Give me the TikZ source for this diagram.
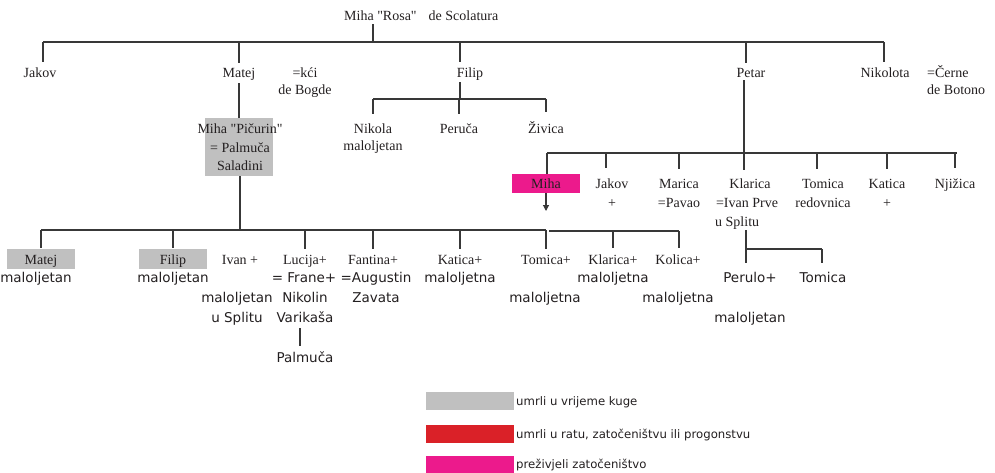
\documentclass[tikz,border=0pt]{standalone}
\usepackage{fontspec}
\setmainfont{Liberation Serif}
\newfontfamily\sansf{DejaVu Sans}
\usetikzlibrary{arrows.meta}
\definecolor{plague}{HTML}{C0C0C0}
\definecolor{war}{HTML}{DA2128}
\definecolor{surv}{HTML}{EC1A8C}
\definecolor{ink}{HTML}{231F20}
\tikzset{
  ser/.style={font=\fontsize{14}{18}\selectfont, inner sep=0pt, anchor=base, text=ink},
  san/.style={font=\sansf\fontsize{13.5}{18}\selectfont, inner sep=0pt, anchor=base, text=ink},
  leg/.style={font=\sansf\fontsize{11.7}{14}\selectfont, inner sep=0pt, anchor=base west, text=ink},
  ln/.style={line width=1.1pt, draw=black!78},
  swatch/.style={draw=none, inner sep=0pt, minimum width=68pt, minimum height=20pt},
  legbox/.style={draw=none, inner sep=0pt, minimum width=88pt, minimum height=18pt},
}
\begin{document}
\begin{tikzpicture}[x=1pt,y=-1pt]
\useasboundingbox (0,0) rectangle (995,472);

% ---------- generation 1 ----------
\node[ser, anchor=base west] (root) at (344,20) {Miha \textquotedbl Rosa\textquotedbl\hspace{12pt}de Scolatura};
\coordinate (rs) at (373,42);
\coordinate (b1a) at (43,42);
\coordinate (b1b) at (884,42);
\draw[ln, shorten <=4pt] (rs |- root.south) -- (rs);
\draw[ln] (b1a) -- (b1b);

% ---------- generation 2 ----------
\node[ser] (jakov) at (40,77) {Jakov};
\node[ser] (matej) at (239,77) {Matej};
\node[ser] (kci) at (305,77) {=kći};
\node[ser] (bogde) at (305,94) {de Bogde};
\node[ser] (filip) at (470,77) {Filip};
\node[ser] (petar) at (751,77) {Petar};
\node[ser] (nikolota) at (885,77) {Nikolota};
\node[ser, anchor=base west] (cerne) at (927,77) {=Černe};
\node[ser, anchor=base west] (botono) at (927,94) {de Botono};

\coordinate (dj) at (43,42);
\coordinate (dm) at (239,42);
\coordinate (df) at (460,42);
\coordinate (dp) at (746,42);
\coordinate (dn) at (884,42);
\draw[ln, shorten >=5pt] (dj) -- (dj |- jakov.north);
\draw[ln, shorten >=5pt] (dm) -- (dm |- matej.north);
\draw[ln, shorten >=5pt] (df) -- (df |- filip.north);
\draw[ln, shorten >=5pt] (dp) -- (dp |- petar.north);
\draw[ln, shorten >=5pt] (dn) -- (dn |- nikolota.north);

% ---------- Filip's children ----------
\coordinate (fj) at (460,99);
\coordinate (f1) at (373,99);
\coordinate (f2) at (459,99);
\coordinate (f3) at (546,99);
\draw[ln, shorten <=2pt] (fj |- filip.south) -- (fj);
\draw[ln] (f1) -- (f3);
\node[ser] (nikola) at (373,133) {Nikola};
\node[ser] (nikolam) at (373,150) {maloljetan};
\node[ser] (peruca) at (459,133) {Peruča};
\node[ser] (zivica) at (546,133) {Živica};
\draw[ln, shorten >=9pt] (f1) -- (f1 |- nikola.north);
\draw[ln, shorten >=9pt] (f2) -- (f2 |- peruca.north);
\draw[ln, shorten >=9pt] (f3) -- (f3 |- zivica.north);

% ---------- Matej -> Miha "Picurin" ----------
\node[swatch, fill=plague, minimum height=58pt] (pbox) at (239,147) {};
\node[ser] (picurin) at (240,133) {Miha \textquotedbl Pičurin\textquotedbl};
\node[ser] (palmuca1) at (240,152) {= Palmuča};
\node[ser] (saladini) at (240,170) {Saladini};
\draw[ln, shorten <=3pt] (matej.south -| pbox.north) -- (pbox.north);

% ---------- children of Miha "Picurin" ----------
\coordinate (mj) at (240,230);
\coordinate (b3a) at (41,230);
\coordinate (b3b) at (546,230);
\coordinate (b4a) at (549,231);
\coordinate (b4b) at (679,231);
\draw[ln] (pbox.south -| mj) -- (mj);
\draw[ln] (b3a) -- (b3b);
\draw[ln] (b4a) -- (b4b);

\node[swatch, fill=plague] (mbox) at (41,259) {};
\node[swatch, fill=plague] (fbox) at (173,259) {};
\node[ser] (matej2) at (41,264) {Matej};
\node[ser] (filip2) at (173,264) {Filip};
\node[ser] (ivan) at (240,264) {Ivan +};
\node[ser] (lucija) at (305,264) {Lucija+};
\node[ser] (fantina) at (373,264) {Fantina+};
\node[ser] (katica2) at (460,264) {Katica+};
\node[ser] (tomica2) at (546,264) {Tomica+};
\node[ser] (klarica2) at (613,264) {Klarica+};
\node[ser] (kolica) at (678,264) {Kolica+};

\coordinate (c1) at (41,230);
\coordinate (c2) at (173,230);
\coordinate (c3) at (305,230);
\coordinate (c4) at (373,230);
\coordinate (c5) at (460,230);
\coordinate (c6) at (546,230);
\coordinate (c7) at (613,231);
\coordinate (c8) at (679,231);
\draw[ln, shorten >=1pt] (c1) -- (c1 |- mbox.north);
\draw[ln, shorten >=1pt] (c2) -- (c2 |- fbox.north);
\draw[ln, shorten >=6pt] (c3) -- (c3 |- lucija.north);
\draw[ln, shorten >=6pt] (c4) -- (c4 |- fantina.north);
\draw[ln, shorten >=6pt] (c5) -- (c5 |- katica2.north);
\draw[ln, shorten >=6pt] (c6) -- (c6 |- tomica2.north);
\draw[ln, shorten >=6pt] (c7) -- (c7 |- klarica2.north);
\draw[ln, shorten >=6pt] (c8) -- (c8 |- kolica.north);

\node[san] (mal1) at (36,282) {maloljetan};
\node[san] (mal2) at (173,282) {maloljetan};
\node[san] (frane) at (304,282) {= Frane+};
\node[san] (augustin) at (376,282) {=Augustin};
\node[san] (mal3) at (460,282) {maloljetna};
\node[san] (mal4) at (613,282) {maloljetna};
\node[san] (perulo) at (750,282) {Perulo+};
\node[san] (tomica3) at (823,282) {Tomica};

\node[san] (mal5) at (237,302) {maloljetan};
\node[san] (nikolin) at (305,302) {Nikolin};
\node[san] (zavata) at (376,302) {Zavata};
\node[san] (mal6) at (545,302) {maloljetna};
\node[san] (mal7) at (678,302) {maloljetna};

\node[san] (usplitu2) at (237,322) {u Splitu};
\node[san] (varikasa) at (305,322) {Varikaša};
\node[san] (mal8) at (750,322) {maloljetan};

\node[san] (palmuca2) at (305,362) {Palmuča};
\coordinate (vp) at (300,322);
\draw[ln, shorten <=6pt, shorten >=5pt] (vp |- varikasa.south) -- (vp |- palmuca2.north);

% ---------- Petar's children ----------
\coordinate (pj) at (744,153);
\coordinate (b5a) at (547,153);
\coordinate (b5b) at (957,153);
\draw[ln, shorten <=3pt] (pj |- petar.south) -- (pj);
\draw[ln] (b5a) -- (b5b);

\node[swatch, fill=surv, minimum height=19pt] (mihabox) at (546,183.5) {};
\node[ser] (miha) at (546,188) {Miha};
\node[ser] (jakov2) at (612,188) {Jakov};
\node[ser] (jakovp) at (612,207) {+};
\node[ser] (marica) at (679,188) {Marica};
\node[ser] (pavao) at (679,207) {=Pavao};
\node[ser] (klarica) at (750,188) {Klarica};
\node[ser] (ivanprve) at (747,207) {=Ivan Prve};
\node[ser, anchor=base west] (usplitu1) at (715,226) {u Splitu};
\node[ser] (tomica) at (823,188) {Tomica};
\node[ser] (redovnica) at (823,207) {redovnica};
\node[ser] (katica) at (887,188) {Katica};
\node[ser] (katicap) at (887,207) {+};
\node[ser] (njizica) at (955,188) {Njižica};

\coordinate (p1) at (547,153);
\coordinate (p2) at (606,153);
\coordinate (p3) at (679,153);
\coordinate (p4) at (744,153);
\coordinate (p5) at (817,153);
\coordinate (p6) at (887,153);
\coordinate (p7) at (955,153);
\draw[ln] (p1) -- (p1 |- mihabox.north);
\draw[ln, shorten >=10pt] (p2) -- (p2 |- jakov2.north);
\draw[ln, shorten >=10pt] (p3) -- (p3 |- marica.north);
\draw[ln, shorten >=8pt] (p4) -- (p4 |- klarica.north);
\draw[ln, shorten >=10pt] (p5) -- (p5 |- tomica.north);
\draw[ln, shorten >=10pt] (p6) -- (p6 |- katica.north);
\draw[ln, shorten >=10pt] (p7) -- (p7 |- njizica.north);

\coordinate (arrtip) at (546,211);
\draw[ln, -{Triangle[length=6pt,width=6pt]}] (mihabox.south) -- (arrtip);

% ---------- Klarica's children ----------
\coordinate (kj) at (746,249);
\coordinate (k2) at (822,249);
\draw[ln, shorten <=1pt] (kj |- usplitu1.south) -- (kj);
\draw[ln] (kj) -- (k2);
\draw[ln, shorten >=9pt] (kj) -- (kj |- perulo.north);
\draw[ln, shorten >=9pt] (k2) -- (k2 |- tomica3.north);

% ---------- legend ----------
\node[legbox, fill=plague] (lg1) at (470,401) {};
\node[legbox, fill=war] (lg2) at (470,434) {};
\node[legbox, fill=surv] (lg3) at (470,465) {};
\node[leg] (lt1) at (516,405) {umrli u vrijeme kuge};
\node[leg] (lt2) at (516,438) {umrli u ratu, zatočeništvu ili progonstvu};
\node[leg] (lt3) at (516,468) {preživjeli zatočeništvo};
\end{tikzpicture}
\end{document}
